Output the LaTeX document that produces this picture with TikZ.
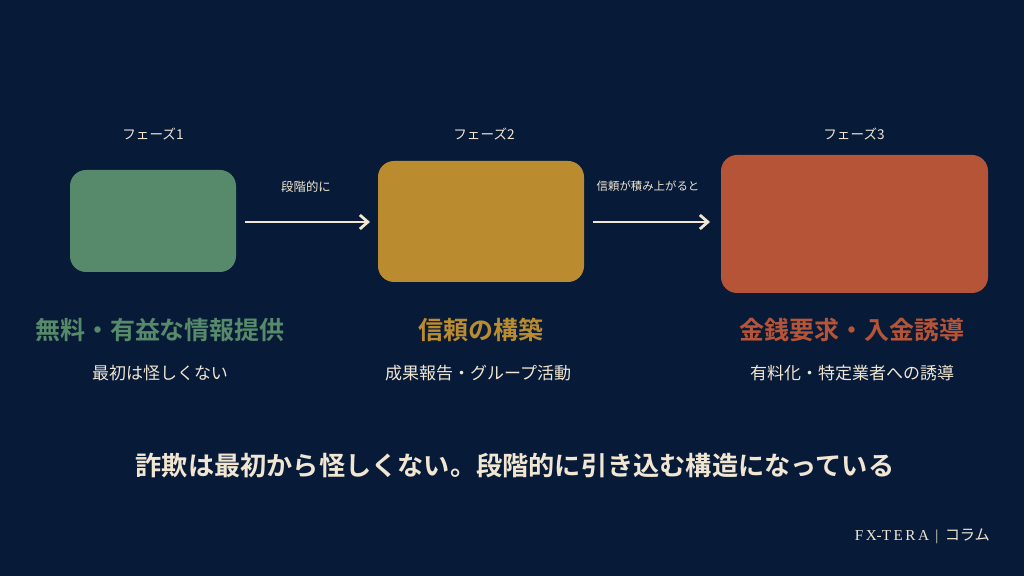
\documentclass[tikz,border=0pt]{standalone}
\usepackage{fontspec}
\usetikzlibrary{arrows.meta,positioning}
\newfontfamily\cjk{Noto Sans CJK JP}[BoldFont={Noto Sans CJK JP Bold}]
\newfontfamily\latinserif{Liberation Serif}

\definecolor{navy}{RGB}{7,26,56}
\definecolor{cream}{RGB}{240,230,210}
\definecolor{phasegreen}{RGB}{86,138,106}
\definecolor{phasegold}{RGB}{186,140,47}
\definecolor{phasered}{RGB}{181,84,54}

\tikzset{
  phasebox/.style={rounded corners=8pt, inner sep=0pt},
  phaselabel/.style={text=cream, font=\cjk\fontsize{6.8}{7}\selectfont},
  steplabel/.style={text=cream, font=\cjk\fontsize{6.2}{7}\selectfont},
  headline/.style={font=\cjk\bfseries\fontsize{12.5}{13}\selectfont},
  subline/.style={text=cream, font=\cjk\fontsize{8.5}{9}\selectfont},
  flow/.style={draw=cream, line width=1.4pt, -{Straight Barb[length=4pt,width=7pt,line width=1.4pt]}},
}

\begin{document}
\begin{tikzpicture}[x=0.5pt,y=-0.5pt]
    % Background
    \fill[navy] (0,0) rectangle (1024,576);
    \useasboundingbox (0,0) rectangle (1024,576);

    % Phase boxes
    \node[phasebox, fill=phasegreen, minimum width=83pt, minimum height=51pt] (box1) at (153,221) {};
    \node[phasebox, fill=phasegold, minimum width=103pt, minimum height=60.5pt] (box2) at (481,221.5) {};
    \node[phasebox, fill=phasered, minimum width=133.5pt, minimum height=69pt] (box3) at (854.5,224) {};

    % Phase labels
    \node[phaselabel] (ph1) at (153,134) {フェーズ1};
    \node[phaselabel] (ph2) at (484,134) {フェーズ2};
    \node[phaselabel] (ph3) at (854,134) {フェーズ3};

    % Arrows between phases
    \coordinate (a1s) at (245,222);
    \coordinate (a1e) at (370,222);
    \coordinate (a2s) at (593,222);
    \coordinate (a2e) at (710,222);
    \draw[flow] (a1s) -- (a1e);
    \draw[flow] (a2s) -- (a2e);
    \node[steplabel] (lab1) at (306,187) {段階的に};
    \node[steplabel, font=\cjk\fontsize{5.7}{6}\selectfont] (lab2) at (648,186) {信頼が積み上がると};

    % Headlines
    \node[headline, text=phasegreen] (head1) at (160,330) {無料・有益な情報提供};
    \node[headline, text=phasegold] (head2) at (481,330) {信頼の構築};
    \node[headline, text=phasered] (head3) at (852,330) {金銭要求・入金誘導};

    % Sub lines
    \node[subline] (sub1) at (160,373) {最初は怪しくない};
    \node[subline] (sub2) at (478,373) {成果報告・グループ活動};
    \node[subline] (sub3) at (852,373) {有料化・特定業者への誘導};

    % Summary
    \node[text=cream, font=\cjk\bfseries\fontsize{13.1}{14}\selectfont] (summary) at (515,466)
        {詐欺は最初から怪しくない。段階的に引き込む構造になっている};

    % Footer
    \node[text=cream, anchor=east, font=\fontsize{7.6}{8}\selectfont] (footer) at (997,536)
        {\latinserif F\,X-T\,E\,R\,A \,|\, {\cjk コラム}};
\end{tikzpicture}
\end{document}
